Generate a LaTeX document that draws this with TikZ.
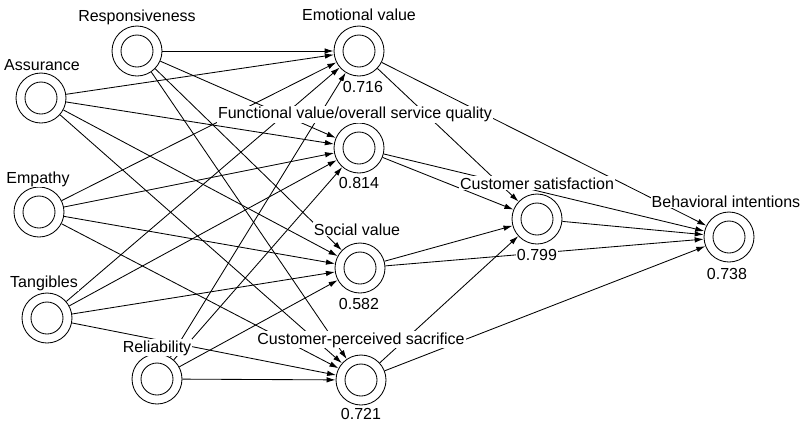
\documentclass[tikz,border=0pt]{standalone}
\usepackage{fontspec}
\setmainfont{Liberation Sans}
\usetikzlibrary{arrows.meta}
\begin{document}
\begin{tikzpicture}[x=1pt,y=-1pt,
  lv/.style={circle, draw, line width=0.85pt, minimum size=50pt, inner sep=0pt,
    path picture={\draw[line width=0.85pt] (path picture bounding box.center) circle (16pt);}},
  link/.style={line width=0.85pt, -{Latex[length=9pt,width=5.5pt]}},
  lbl/.style={anchor=base, fill=white, inner sep=1pt, font=\fontsize{16}{19}\selectfont}]
\useasboundingbox (0,0) rectangle (805,424);

% latent variables
\node[lv] (resp) at (137,51) {};
\node[lv] (assu) at (41,98) {};
\node[lv] (empa) at (39,212) {};
\node[lv] (tang) at (47,318) {};
\node[lv] (reli) at (157,379) {};
\node[lv] (emot) at (359,51) {};
\node[lv] (func) at (359,148) {};
\node[lv] (soci) at (360,268) {};
\node[lv] (sacr) at (361,380) {};
\node[lv] (csat) at (537,219) {};
\node[lv] (beha) at (729,237) {};

% service quality dimensions -> perceived value components
\foreach \s in {resp,assu,empa,tang,reli}
  \foreach \t in {emot,func,soci,sacr}
    \draw[link] (\s) -- (\t);

% value components -> satisfaction and intentions
\foreach \s in {emot,func,soci,sacr} {
  \draw[link] (\s) -- (csat);
  \draw[link] (\s) -- (beha);
}
\draw[link] (csat) -- (beha);

% labels
\node[lbl] (l-resp) at (137,21) {Responsiveness};
\node[lbl] (l-assu) at (42,70.5) {Assurance};
\node[lbl] (l-empa) at (38,183) {Empathy};
\node[lbl] (l-tang) at (44,287) {Tangibles};
\node[lbl] (l-reli) at (157,352) {Reliability};
\node[lbl] (l-emot) at (359,20.7) {Emotional value};
\node[lbl] (r-emot) at (363,92.7) {0.716};
\node[lbl] (l-func) at (355,118.7) {Functional value/overall service quality};
\node[lbl] (r-func) at (359,188) {0.814};
\node[lbl] (l-soci) at (357,235) {Social value};
\node[lbl] (r-soci) at (359,309) {0.582};
\node[lbl] (l-sacr) at (361,344) {Customer-perceived sacrifice};
\node[lbl] (r-sacr) at (361,419.5) {0.721};
\node[lbl] (l-csat) at (537,189) {Customer satisfaction};
\node[lbl] (r-csat) at (537,260) {0.799};
\node[lbl] (l-beha) at (726,207.3) {Behavioral intentions};
\node[lbl] (r-beha) at (727,279) {0.738};
\end{tikzpicture}
\end{document}
